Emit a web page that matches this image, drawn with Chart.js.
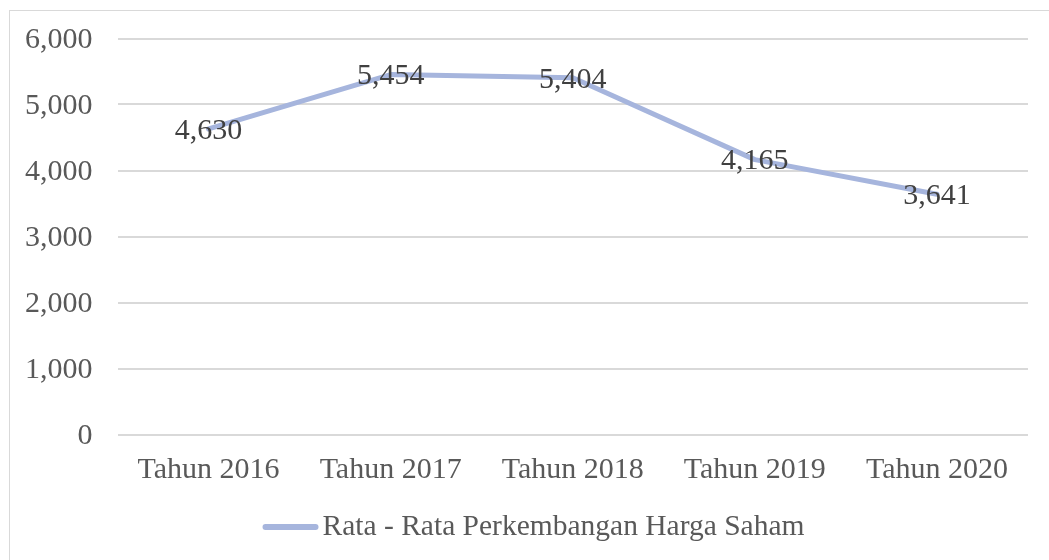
<!DOCTYPE html>
<html>
<head>
<meta charset="utf-8">
<script src="https://cdn.jsdelivr.net/npm/chart.js@4/dist/chart.umd.min.js"></script>
<style>
  html, body { margin: 0; padding: 0; background: #fff; overflow: hidden; width: 1049px; height: 560px; }
  #wrap { position: absolute; left: 9px; top: 10px; width: 1050px; height: 560px; border: 1.5px solid #d9d9d9; box-sizing: border-box; }
  canvas { display: block; }
</style>
</head>
<body>
<div id="wrap"><canvas id="c" width="1047" height="557"></canvas></div>
<script>
const categories = ["Tahun 2016", "Tahun 2017", "Tahun 2018", "Tahun 2019", "Tahun 2020"];
const seriesName = "Rata - Rata Perkembangan Harga Saham";
const values = [4630, 5454, 5404, 4165, 3641];
const yTicks = [0, 1000, 2000, 3000, 4000, 5000, 6000];

const FONT = "'Liberation Serif', 'Times New Roman', serif";
const FONT_SIZE = 30;
const LINE_COLOR = "#A6B5DD";

const fmt = v => v.toLocaleString("en-US");

const labelPlugin = {
  id: "pointLabels",
  afterDatasetsDraw(chart) {
    const ctx = chart.ctx;
    const meta = chart.getDatasetMeta(0);
    ctx.save();
    ctx.font = FONT_SIZE + "px " + FONT;
    ctx.fillStyle = "#404040";
    ctx.textAlign = "center";
    ctx.textBaseline = "middle";
    meta.data.forEach((pt, i) => {
      ctx.fillText(fmt(chart.data.datasets[0].data[i]), pt.x, pt.y + 2);
    });
    ctx.restore();
  }
};

const legendPlugin = {
  id: "lineLegend",
  afterDraw(chart) {
    const ctx = chart.ctx;
    ctx.save();
    ctx.font = "29.5px " + FONT;
    const tw = ctx.measureText(seriesName).width;
    const lineW = 50, cap = 3, gap = 4;
    const total = cap + lineW + cap + gap + tw;
    const x0 = (chart.width - total) / 2;
    const y = 516;
    ctx.strokeStyle = LINE_COLOR;
    ctx.lineWidth = 6;
    ctx.lineCap = "round";
    ctx.beginPath();
    ctx.moveTo(x0 + cap, y);
    ctx.lineTo(x0 + cap + lineW, y);
    ctx.stroke();
    ctx.fillStyle = "#595959";
    ctx.textAlign = "left";
    ctx.textBaseline = "middle";
    ctx.fillText(seriesName, x0 + cap + lineW + cap + gap, y);
    ctx.restore();
  }
};

new Chart(document.getElementById("c"), {
  type: "line",
  data: {
    labels: categories,
    datasets: [{
      label: seriesName,
      data: values,
      borderColor: LINE_COLOR,
      backgroundColor: LINE_COLOR,
      borderWidth: 5,
      borderCapStyle: "round",
      borderJoinStyle: "round",
      pointRadius: 0,
      pointHoverRadius: 0,
      tension: 0,
      fill: false
    }]
  },
  options: {
    responsive: false,
    animation: false,
    devicePixelRatio: 1,
    layout: { padding: { top: 27.5, left: 0, right: 29, bottom: 67.5 } },
    plugins: {
      tooltip: { enabled: false },
      legend: { display: false }
    },
    scales: {
      x: {
        offset: true,
        grid: { display: false, drawTicks: false },
        border: { display: false },
        ticks: { font: { family: FONT, size: FONT_SIZE }, color: "#595959", padding: 18, maxRotation: 0 },
        afterFit(scale) { scale.height = 66; scale.paddingLeft = 0; scale.paddingRight = 0; }
      },
      y: {
        min: 0,
        max: 6000,
        afterBuildTicks(scale) { scale.ticks = yTicks.map(v => ({ value: v })); },
        grid: { color: "#d9d9d9", lineWidth: 2, drawTicks: false },
        border: { display: false },
        ticks: {
          font: { family: FONT, size: FONT_SIZE },
          color: "#595959",
          padding: 25,
          labelOffset: 2,
          callback: v => fmt(v)
        },
        afterFit(scale) { scale.width = 107.5; scale.paddingTop = 0; scale.paddingBottom = 0; }
      }
    }
  },
  plugins: [labelPlugin, legendPlugin]
});
</script>
</body>
</html>
